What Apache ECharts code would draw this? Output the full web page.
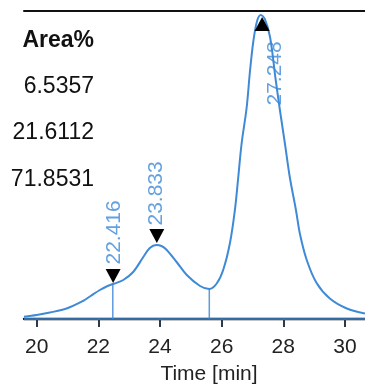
<!DOCTYPE html>
<html>
<head>
<meta charset="utf-8">
<script src="https://cdn.jsdelivr.net/npm/echarts@6/dist/echarts.min.js"></script>
<style>
  html, body { margin: 0; padding: 0; background: #fff; }
  #chart { width: 365px; height: 392px; }
</style>
</head>
<body>
<div id="chart"></div>
<script>
// chromatogram trace (time in min, signal in arbitrary units above baseline)
const curveTime = [19.59, 20.0, 20.43, 20.97, 21.5, 21.75, 22.05, 22.3, 22.48, 22.81,
  23.13, 23.46, 23.67, 23.88, 24.05, 24.22, 24.54, 24.87, 25.3, 25.6,
  25.84, 26.05, 26.27, 26.43, 26.54, 26.65, 26.81, 26.92, 27.03, 27.15,
  27.27, 27.4, 27.57, 27.75, 27.89, 28.05, 28.21, 28.41, 28.54, 28.76,
  29.08, 29.51, 30.06, 30.65];
const curveSignal = [2.3, 4, 6.5, 10.5, 18, 23, 29, 33, 35, 39,
  47, 62, 71, 74, 73, 69, 57, 44, 33, 30,
  35.5, 49, 76, 109, 142, 176, 211, 248, 278, 298,
  304, 300, 282, 240, 209, 176, 142, 109, 85, 59,
  36, 20.5, 10.5, 5.5];

// peaks found by integration
const peakTimes = [22.416, 23.833, 27.248];
const peakHeights = [35, 74, 304];
// integration boundaries (drop lines)
const dropTimes = [22.47, 25.6];
const dropHeights = [35, 30];
// area table
const areaTitle = 'Area%';
const areaValues = ['6.5357', '21.6112', '71.8531'];
// x ticks
const tickValues = [20, 22, 24, 26, 28, 30];

const xMin = 19.59, xMax = 30.65;
const blue = '#3f8ad6';
const font = 'Liberation Sans, Arial, sans-serif';

let chart = echarts.init(document.getElementById('chart'));

let curve = curveTime.map((t, i) => [t, curveSignal[i]]);

let dropSeries = dropTimes.map((t, i) => ({
  type: 'line',
  data: [[t, 0], [t, dropHeights[i]]],
  symbol: 'none',
  silent: true,
  lineStyle: { color: blue, width: 1.5, opacity: 0.85 },
}));

// marker look per peak (first two point down above the peak, last one sits in the apex)
let markerStyle = [
  { symbolRotate: 180, symbolOffset: [2, -8] },
  { symbolRotate: 180, symbolOffset: [2, -9] },
  { symbolRotate: 0, symbolOffset: [2, 9] },
];
let labelOffset = [[4, -19], [2, -19], [16, 91]];

let areaGraphics = [{
  type: 'text', right: 365 - 94, top: 29,
  style: { text: areaTitle, font: 'bold 23px ' + font, fill: '#111' },
}].concat(areaValues.map((v, i) => ({
  type: 'text', right: 365 - 94, top: [75, 121, 168][i],
  style: { text: v, font: '23px ' + font, fill: '#111' },
})));

let option = {
  animation: false,
  grid: { left: 24, right: 0, top: 11, bottom: 68.5 },
  xAxis: [
    {
      type: 'value',
      min: xMin,
      max: xMax,
      name: 'Time [min]',
      nameLocation: 'middle',
      nameGap: 40,
      nameTextStyle: { color: '#222', fontSize: 21, fontFamily: font, padding: [0, 0, 0, 29] },
      axisLine: { show: true, lineStyle: { color: '#111', width: 2.3 } },
      axisTick: { show: true, length: 8, customValues: tickValues,
        lineStyle: { color: '#2b3a4c', width: 2 } },
      axisLabel: { customValues: tickValues, margin: 13,
        color: '#222', fontSize: 21, fontFamily: font },
      splitLine: { show: false },
    },
    {
      type: 'value',
      position: 'top',
      min: xMin,
      max: xMax,
      axisLine: { show: true, lineStyle: { color: '#111', width: 2 } },
      axisTick: { show: false },
      axisLabel: { show: false },
      splitLine: { show: false },
    },
  ],
  yAxis: {
    type: 'value',
    min: -4.5,
    max: 308,
    show: false,
    splitLine: { show: false },
  },
  graphic: areaGraphics,
  series: [
    {
      // baseline
      type: 'line',
      data: [[xMin, 0], [xMax, 0]],
      symbol: 'none',
      silent: true,
      lineStyle: { color: blue, width: 2, opacity: 0.75 },
    },
    ...dropSeries,
    {
      type: 'line',
      data: curve,
      smooth: 0.35,
      symbol: 'none',
      lineStyle: { color: blue, width: 2 },
      z: 3,
    },
    {
      // peak markers
      type: 'scatter',
      symbol: 'triangle',
      symbolSize: [15, 14],
      itemStyle: { color: '#000', opacity: 1 },
      z: 4,
      data: peakTimes.map((t, i) => Object.assign({ value: [t, peakHeights[i]] }, markerStyle[i])),
    },
    {
      // peak retention time labels
      type: 'scatter',
      symbol: 'circle',
      symbolSize: 1,
      itemStyle: { color: 'rgba(0,0,0,0)' },
      z: 5,
      data: peakTimes.map((t, i) => ({
        value: [t, peakHeights[i]],
        label: {
          show: true,
          formatter: t.toFixed(3),
          position: labelOffset[i],
          rotate: 90,
          align: 'left',
          verticalAlign: 'middle',
          color: blue,
          fontSize: 21,
          fontFamily: font,
        },
      })),
    },
  ],
};
chart.setOption(option);
</script>
</body>
</html>
